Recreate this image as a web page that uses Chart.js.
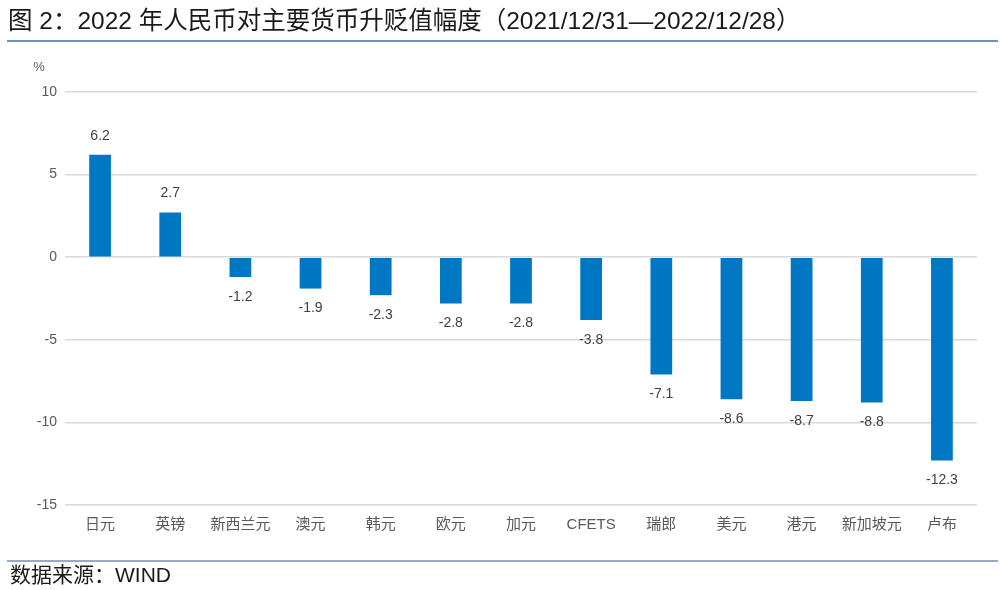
<!DOCTYPE html>
<html>
<head>
<meta charset="utf-8">
<script src="https://cdn.jsdelivr.net/npm/chart.js@4"></script>
<style>
  html, body { margin: 0; padding: 0; background: #fff; }
  #wrap { width: 1000px; height: 590px; position: relative; }
</style>
</head>
<body>
<div id="wrap"><canvas id="myChart" width="1000" height="590"></canvas></div>
<script>
const categories = ['日元', '英镑', '新西兰元', '澳元', '韩元', '欧元', '加元', 'CFETS', '瑞郎', '美元', '港元', '新加坡元', '卢布'];
const changes = [6.2, 2.7, -1.2, -1.9, -2.3, -2.8, -2.8, -3.8, -7.1, -8.6, -8.7, -8.8, -12.3];
const yTicks = [10, 5, 0, -5, -10, -15];

const titleText = '图 2：2022 年人民币对主要货币升贬值幅度（2021/12/31—2022/12/28）';
const sourceText = '数据来源：WIND';
const fontFamily = '"Liberation Sans", "Noto Sans CJK SC", sans-serif';

// title, rules, unit label, footer and value labels
const decor = {
    id: 'decor',
    afterDraw(chart) {
        const ctx = chart.ctx;
        ctx.save();
        ctx.fillStyle = '#1a1a1a';
        ctx.font = '24.5px ' + fontFamily;
        ctx.textBaseline = 'middle';
        ctx.textAlign = 'left';
        ctx.fillText(titleText, 8, 22);

        ctx.strokeStyle = '#7390B2';
        ctx.lineWidth = 2;
        ctx.beginPath();
        ctx.moveTo(7, 41);
        ctx.lineTo(998, 41);
        ctx.stroke();

        ctx.lineWidth = 1.5;
        ctx.beginPath();
        ctx.moveTo(7, 561);
        ctx.lineTo(998, 561);
        ctx.stroke();

        ctx.fillStyle = '#1a1a1a';
        ctx.font = '21px ' + fontFamily;
        ctx.fillText(sourceText, 10, 576);

        ctx.fillStyle = '#595959';
        ctx.font = '13px ' + fontFamily;
        ctx.textAlign = 'center';
        ctx.fillText('%', 39, 67);

        const meta = chart.getDatasetMeta(0);
        ctx.fillStyle = '#404040';
        ctx.font = '14px ' + fontFamily;
        meta.data.forEach((bar, i) => {
            const v = changes[i];
            const y = v >= 0 ? bar.y - 19 : bar.y + 20;
            ctx.fillText(v.toFixed(1), bar.x, y);
        });
        ctx.restore();
    }
};

new Chart(document.getElementById('myChart').getContext('2d'), {
    type: 'bar',
    data: {
        labels: categories,
        datasets: [{
            data: changes,
            backgroundColor: '#0077C2',
            borderWidth: 0,
            categoryPercentage: 1,
            barPercentage: 0.31
        }]
    },
    options: {
        responsive: false,
        animation: false,
        devicePixelRatio: 1,
        layout: { padding: { top: 92, right: 23, bottom: 45, left: 0 } },
        plugins: {
            legend: { display: false },
            tooltip: { enabled: false }
        },
        scales: {
            x: {
                grid: { display: false, drawTicks: false },
                border: { display: false },
                ticks: {
                    color: '#595959',
                    font: { size: 15, family: fontFamily },
                    padding: 11,
                    maxRotation: 0,
                    autoSkip: false
                },
                afterFit(axis) { axis.height = 40; }
            },
            y: {
                min: -15,
                max: 10,
                afterBuildTicks(axis) { axis.ticks = yTicks.map(v => ({ value: v })); },
                grid: { color: '#D9D9D9', lineWidth: 1.5, drawTicks: false },
                border: { display: false },
                ticks: {
                    color: '#595959',
                    font: { size: 14, family: fontFamily },
                    padding: 8
                },
                afterFit(axis) { axis.width = 65; }
            }
        }
    },
    plugins: [decor]
});
</script>
</body>
</html>
